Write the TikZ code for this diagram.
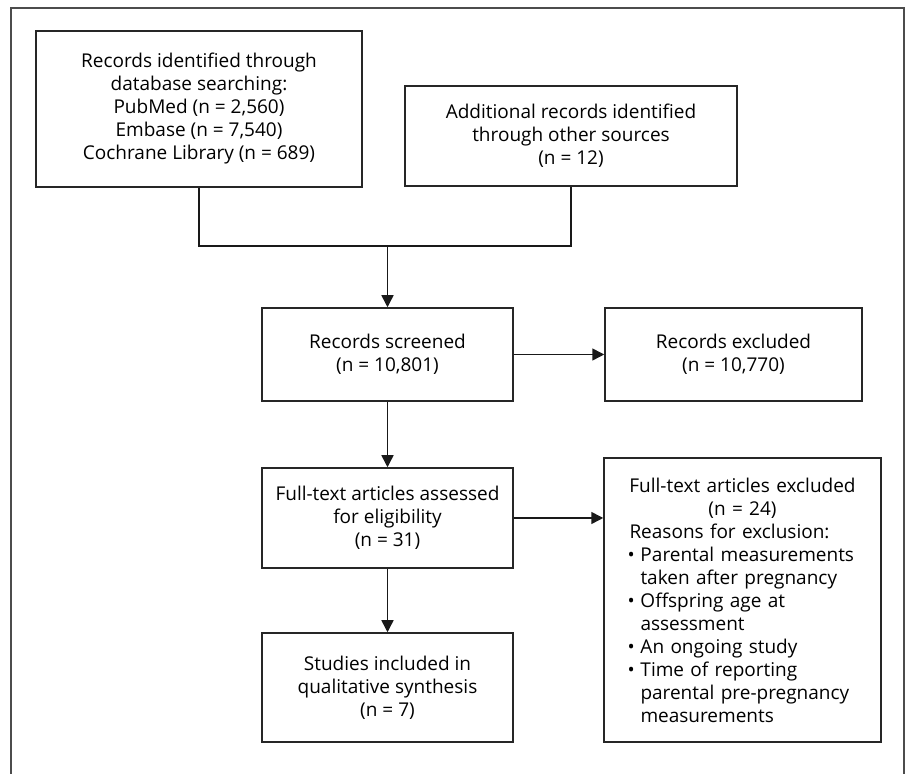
\documentclass[tikz,border=0pt]{standalone}
\usepackage{fontspec}
\setmainfont{Open Sans}
\usetikzlibrary{arrows.meta,positioning}
\tikzset{>={Triangle[width=6pt,length=6pt]}}
\tikzset{
  box/.style={draw=black!85, line width=0.75pt, align=center, inner sep=0pt,
    font=\fontsize{9.5}{11.5}\selectfont},
  link/.style={draw=black!90, line width=0.75pt},
  frame/.style={draw=black!70, line width=1pt},
}
\newcommand\bitem{\par\hangindent=6.5pt\hangafter=1\makebox[6.5pt][l]{\textbullet}}

\begin{document}
\begin{tikzpicture}[x=0.5pt,y=-0.5pt]

  \useasboundingbox (0,0) rectangle (912,774);
  \draw[frame] (11,774) |- (904,8) -- (904,774);

  \node[box, minimum width=163pt, minimum height=78pt] (db) at (199,109)
    {Records identified through\\database searching:\\PubMed (n = 2,560)\\Embase (n = 7,540)\\Cochrane Library (n = 689)};
  \node[box, minimum width=166pt, minimum height=50pt] (other) at (571,136)
    {Additional records identified\\through other sources\\(n = 12)};
  \node[box, minimum width=125.5pt, minimum height=46.5pt] (screen) at (387.5,354.5)
    {Records screened\\(n = 10,801)};
  \node[box, minimum width=128.5pt, minimum height=46.5pt] (excl) at (733.5,354.5)
    {Records excluded\\(n = 10,770)};
  \node[box, minimum width=125.5pt, minimum height=50pt] (full) at (387.5,518)
    {Full-text articles assessed\\for eligibility\\(n = 31)};
  \node[box, minimum width=125.5pt, minimum height=54.5pt] (incl) at (387.5,687.5)
    {Studies included in\\qualitative synthesis\\(n = 7)};
  \node[box, minimum width=138.5pt, minimum height=142pt, text width=115pt, align=left] (ftex) at (742.5,600)
    {\hyphenpenalty=10000
     {\centering Full-text articles excluded\par (n = 24)\par}
     \hspace*{1pt}Reasons for exclusion:
     \bitem Parental measurements\newline taken after pregnancy
     \bitem Offspring age at\newline assessment
     \bitem An ongoing study
     \bitem Time of reporting\newline parental pre-pregnancy\newline measurements\par};

  \coordinate (merge) at (387.5,246);

  \draw[link] (db.south) |- (merge) -| (other.south); % join of the two sources
  \draw[link,->] (merge) -- (screen.north);
  \draw[link,->] (screen) -- (excl);
  \draw[link,->] (screen) -- (full);
  \draw[link,->] (full.east) -- (full.east -| ftex.west);
  \draw[link,->] (full) -- (incl);

\end{tikzpicture}
\end{document}
